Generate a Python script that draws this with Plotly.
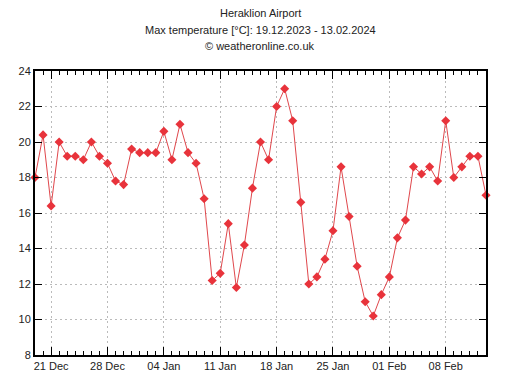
import plotly.graph_objects as go
import pandas as pd

dates = pd.date_range("2023-12-19", "2024-02-13", freq="D")
temps = [18.0, 20.4, 16.4, 20.0, 19.2, 19.2, 19.0, 20.0, 19.2, 18.8, 17.8, 17.6, 19.6,
         19.4, 19.4, 19.4, 20.6, 19.0, 21.0, 19.4, 18.8, 16.8, 12.2, 12.6, 15.4, 11.8,
         14.2, 17.4, 20.0, 19.0, 22.0, 23.0, 21.2, 16.6, 12.0, 12.4, 13.4, 15.0, 18.6,
         15.8, 13.0, 11.0, 10.2, 11.4, 12.4, 14.6, 15.6, 18.6, 18.2, 18.6, 17.8, 21.2,
         18.0, 18.6, 19.2, 19.2, 17.0]
tick_dates = ["2023-12-21", "2023-12-28", "2024-01-04", "2024-01-11", "2024-01-18",
              "2024-01-25", "2024-02-01", "2024-02-08"]
tick_labels = ["21 Dec", "28 Dec", "04 Jan", "11 Jan", "18 Jan", "25 Jan", "01 Feb", "08 Feb"]
y_ticks = [8, 10, 12, 14, 16, 18, 20, 22, 24]

fig = go.Figure()
fig.add_trace(go.Scatter(
    x=dates, y=temps, mode="lines+markers",
    line=dict(color="#e0474c", width=1),
    marker=dict(symbol="diamond", size=7, color="#e8333b"),
    cliponaxis=False,
))

W, H = 505, 391
PL, PR, PT, PB = 35, 486, 71, 355  # plot area in window pixels
fig.update_layout(
    width=W, height=H,
    margin=dict(l=PL, r=W - PR, t=PT, b=H - PB, autoexpand=False),
    paper_bgcolor="white", plot_bgcolor="white",
    showlegend=False,
    font=dict(family="Liberation Sans, Arial, sans-serif", size=11, color="#222"),
)
ph = PB - PT
pw = PR - PL
for txt, ypix in [("Heraklion Airport", 12.5), ("Max temperature [°C]: 19.12.2023 - 13.02.2024", 30),
                  ("© weatheronline.co.uk", 46)]:
    fig.add_annotation(text=txt, xref="paper", x=(260 - PL) / pw,
                       yref="paper", y=1 + (PT - ypix) / ph,
                       showarrow=False, xanchor="center", yanchor="middle",
                       font=dict(size=11, color="#222"))

fig.update_xaxes(
    range=["2023-12-19", "2024-02-13"],
    tickvals=tick_dates, ticktext=tick_labels,
    ticks="inside", ticklen=8, tickwidth=1, tickcolor="black",
    showline=True, linecolor="black", linewidth=2, mirror="ticks",
    showgrid=True, gridcolor="#bbbbbb", griddash="2px,3px", gridwidth=1,
    zeroline=False, automargin=False,
    minor=dict(dtick=86400000, tick0="2023-12-19", ticks="inside", ticklen=4,
               tickcolor="black", tickwidth=1, showgrid=False),
    tickfont=dict(size=11, color="#222"),
)
fig.update_yaxes(
    range=[8, 24], tickvals=y_ticks,
    ticks="inside", ticklen=7, tickwidth=1, tickcolor="black",
    showline=True, linecolor="black", linewidth=2, mirror="ticks",
    showgrid=True, gridcolor="#bbbbbb", griddash="2px,3px", gridwidth=1,
    zeroline=False, automargin=False,
    tickfont=dict(size=11, color="#222"),
)

fig.write_html("out.html", config={"displayModeBar": False},
               post_script="document.body.style.margin='0';document.body.style.overflow='hidden';")
